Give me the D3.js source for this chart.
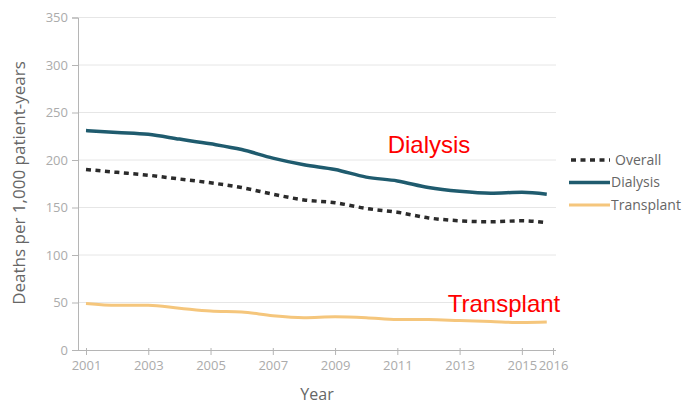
<!DOCTYPE html>
<html>
<head>
<meta charset="utf-8">
<script src="https://cdnjs.cloudflare.com/ajax/libs/d3/7.8.5/d3.min.js"></script>
<style>
  body { margin: 0; background: #fff; }
  svg { display: block; font-family: 'Open Sans', sans-serif; }
</style>
</head>
<body>
<div id="chart"></div>
<script>
// Data
const years = [2001, 2002, 2003, 2004, 2005, 2006, 2007, 2008, 2009, 2010, 2011, 2012, 2013, 2014, 2015, 2015.8];
const overall = [190, 187, 184, 180, 176, 171, 164, 158, 155, 149, 145, 139, 136, 135, 136, 134];
const dialysis = [231, 229, 227, 222, 217, 211, 202, 195, 190, 182, 178, 171, 167, 165, 166, 164];
const transplant = [49, 47, 47, 44, 41, 40, 36, 34, 35, 34, 32, 32, 31, 30, 29, 29.5];
const xTicks = [2001, 2003, 2005, 2007, 2009, 2011, 2013, 2015, 2016];
const yTicks = [0, 50, 100, 150, 200, 250, 300, 350];

const series = [
  { name: "Overall", values: overall, color: "#2b2b2b", width: 3.5, dash: "5,4.5" },
  { name: "Dialysis", values: dialysis, color: "#1f5b6e", width: 3.5, dash: null },
  { name: "Transplant", values: transplant, color: "#f5c67c", width: 3, dash: null }
];

const W = 688, H = 406;
const svg = d3.select("#chart").append("svg").attr("width", W).attr("height", H);

const x = d3.scaleLinear().domain([2001, 2016]).range([86, 553]);
const y = d3.scaleLinear().domain([0, 350]).range([350, 17.5]);

// gridlines
svg.append("g")
  .selectAll("line")
  .data(yTicks.filter(d => d > 0))
  .join("line")
  .attr("x1", 78).attr("x2", 556)
  .attr("y1", d => y(d)).attr("y2", d => y(d))
  .attr("stroke", "#e6e6e6").attr("stroke-width", 1);

// y axis
const yAxis = svg.append("g")
  .attr("transform", "translate(78,0)")
  .call(d3.axisLeft(y).tickValues(yTicks).tickSize(6).tickPadding(4));
yAxis.select(".domain").attr("stroke", "#b5b5b5");
yAxis.selectAll(".tick line").attr("stroke", "#b5b5b5");
yAxis.selectAll("text").attr("fill", "#ababab").style("font-size", "13px").style("font-family", "'Open Sans', sans-serif");

// x axis
const xAxis = svg.append("g")
  .attr("transform", "translate(0,350)")
  .call(d3.axisBottom(x).tickValues(xTicks).tickFormat(d3.format("d")).tickSize(5).tickPadding(6));
xAxis.select(".domain").attr("d", "M78,0.5H556").attr("stroke", "#b5b5b5");
xAxis.selectAll(".tick line").attr("stroke", "#b5b5b5").attr("y1", -2);
xAxis.selectAll("text").attr("fill", "#ababab").style("font-size", "13px").style("font-family", "'Open Sans', sans-serif");

// axis titles
svg.append("text")
  .attr("transform", "translate(25,183) rotate(-90)")
  .attr("text-anchor", "middle")
  .attr("fill", "#666")
  .style("font-size", "17px")
  .text("Deaths per 1,000 patient-years");

svg.append("text")
  .attr("x", 317).attr("y", 400)
  .attr("text-anchor", "middle")
  .attr("fill", "#666")
  .style("font-size", "16px")
  .text("Year");

// lines
const line = d3.line()
  .x((d, i) => x(years[i]))
  .y(d => y(d))
  .curve(d3.curveMonotoneX);

svg.append("g")
  .selectAll("path")
  .data(series.slice().reverse())
  .join("path")
  .attr("d", d => line(d.values))
  .attr("fill", "none")
  .attr("stroke", d => d.color)
  .attr("stroke-width", d => d.width)
  .attr("stroke-dasharray", d => d.dash);

// legend
const legend = svg.append("g").attr("transform", "translate(569,160)");
const item = legend.selectAll("g")
  .data(series)
  .join("g")
  .attr("transform", (d, i) => `translate(0,${i * 22.5})`);
item.append("line")
  .attr("x1", d => d.dash ? 2 : 0).attr("x2", 41)
  .attr("y1", 0).attr("y2", 0)
  .attr("stroke", d => d.color)
  .attr("stroke-width", d => d.width)
  .attr("stroke-dasharray", d => d.dash);
item.append("text")
  .attr("x", d => d.dash ? 46 : 42).attr("y", 0).attr("dy", "0.35em")
  .attr("fill", "#666")
  .style("font-size", "14px")
  .text(d => d.name);

// red annotations
svg.append("text")
  .attr("x", 429).attr("y", 153)
  .attr("text-anchor", "middle")
  .attr("fill", "#ff0000")
  .style("font-family", "'Liberation Sans', Arial, sans-serif")
  .style("font-size", "24px")
  .text("Dialysis");

svg.append("text")
  .attr("x", 504).attr("y", 312)
  .attr("text-anchor", "middle")
  .attr("fill", "#ff0000")
  .style("font-family", "'Liberation Sans', Arial, sans-serif")
  .style("font-size", "24px")
  .text("Transplant");
</script>
</body>
</html>
